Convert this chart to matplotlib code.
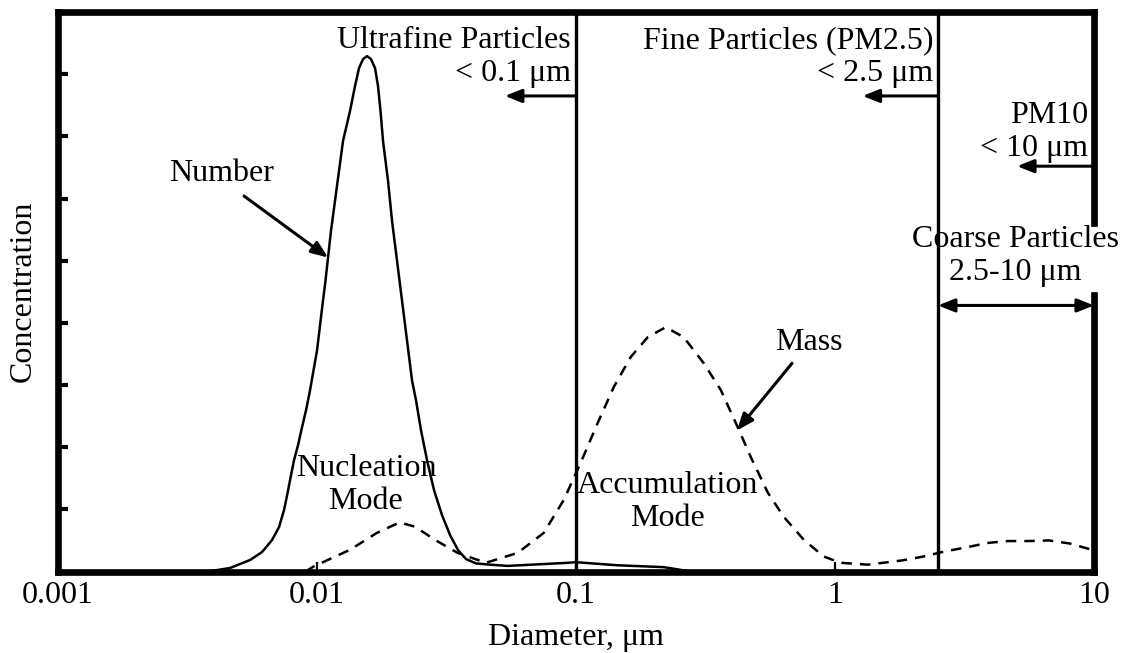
import matplotlib
matplotlib.use("Agg")
import matplotlib.pyplot as plt

plt.rcParams["font.family"] = ["Liberation Serif", "DejaVu Serif"]

# Number concentration distribution (diameter in um, relative concentration)
number_diameter = [0.0038, 0.004633, 0.005534, 0.006157, 0.006729, 0.007160,
                   0.007485, 0.007722, 0.007965, 0.008180, 0.008476, 0.008781,
                   0.009101, 0.009430, 0.009727, 0.010035, 0.010306, 0.010585,
                   0.010822, 0.011066, 0.011365, 0.011776, 0.012203, 0.012645,
                   0.013455, 0.014067, 0.014576, 0.015105, 0.015651, 0.016216,
                   0.016804, 0.017258, 0.017645, 0.018042, 0.018863, 0.019544,
                   0.020432, 0.021360, 0.022331, 0.023346, 0.024190, 0.025290,
                   0.026677, 0.028390, 0.030479, 0.032732, 0.035134, 0.037731,
                   0.041229, 0.046692, 0.05465, 0.0931, 0.1, 0.1452, 0.2188, 0.278]
number_conc = [0.0, 0.056, 0.185, 0.313, 0.506, 0.714,
               0.987, 1.260, 1.549, 1.790, 2.030, 2.319,
               2.592, 2.913, 3.234, 3.555, 3.957, 4.358,
               4.679, 5.048, 5.482, 5.963, 6.445, 6.926,
               7.408, 7.809, 8.098, 8.242, 8.291, 8.242,
               8.098, 7.809, 7.408, 6.926, 6.284, 5.642,
               5.000, 4.358, 3.716, 3.074, 2.753, 2.271,
               1.790, 1.308, 0.907, 0.586, 0.345, 0.200,
               0.130, 0.110, 0.090, 0.140, 0.150, 0.100, 0.070, 0.0]

# Mass concentration distribution
mass_diameter = [0.00907, 0.00973, 0.01346, 0.01706, 0.0209, 0.0240, 0.0286, 0.0350,
                 0.0450, 0.0597, 0.0752, 0.0899, 0.1045, 0.1216, 0.1403, 0.163,
                 0.1897, 0.2225, 0.261, 0.312, 0.363, 0.422, 0.474, 0.551, 0.635,
                 0.759, 0.907, 1.055, 1.34, 1.83, 2.19, 2.64, 3.23, 3.90, 4.66,
                 5.61, 6.70, 8.07, 10.0]
mass_conc = [0.0, 0.08, 0.35, 0.62, 0.79, 0.72, 0.51, 0.30,
             0.14, 0.30, 0.62, 1.15, 1.75, 2.39, 2.97, 3.45,
             3.77, 3.93, 3.77, 3.35, 2.92, 2.32, 1.84, 1.27, 0.88,
             0.51, 0.24, 0.14, 0.11, 0.18, 0.24, 0.32, 0.39, 0.46, 0.49,
             0.49, 0.50, 0.45, 0.34]

x_ticks = [0.001, 0.01, 0.1, 1, 10]
x_tick_labels = ["0.001", "0.01", "0.1", "1", "10"]
y_ticks = [1, 2, 3, 4, 5, 6, 7, 8]

ultrafine_cut = 0.1
fine_cut = 2.5
pm10_cut = 10

FS = 23
LS = 1.18
frame_lw = 4.8

fig = plt.figure(figsize=(11.22, 6.53), dpi=100)
ax = fig.add_axes([0.05125, 0.1248, 0.92375, 0.8568])
ax.set_xscale("log")
ax.set_xlim(0.001, 10)
ax.set_ylim(0, 9)

# size distributions
ax.plot(number_diameter, number_conc, color="black", lw=1.8, zorder=3,
        solid_joinstyle="round")
ax.plot(mass_diameter, mass_conc, color="black", lw=1.8,
        dashes=(4.2, 3.2), zorder=3)

# size-class boundaries
ax.axvline(ultrafine_cut, color="black", lw=2.4, zorder=2)
ax.axvline(fine_cut, color="black", lw=2.4, zorder=2)

# frame: right side drawn in two pieces around the coarse-particle label
for side in ("left", "top", "bottom"):
    ax.spines[side].set_linewidth(frame_lw)
ax.spines["right"].set_visible(False)
yt = ax.get_yaxis_transform()
ax.plot([1, 1], [0, 4.44], transform=yt, color="black", lw=frame_lw,
        clip_on=False, solid_capstyle="projecting", zorder=4)
ax.plot([1, 1], [5.61, 9], transform=yt, color="black", lw=frame_lw,
        clip_on=False, solid_capstyle="projecting", zorder=4)

ax.set_xticks(x_ticks)
ax.set_xticklabels(x_tick_labels)
ax.minorticks_off()
ax.tick_params(axis="x", which="major", direction="in", length=7, width=1.6,
               labelsize=FS, pad=7)
ax.set_yticks(y_ticks)
ax.set_yticklabels([])
ax.tick_params(axis="y", which="major", direction="in", length=7.5, width=3,
               left=True, right=False)

ax.set_xlabel("Diameter, μm", fontsize=FS, labelpad=9)
ax.set_ylabel("Concentration", fontsize=FS, labelpad=11)

head = "-|>,head_length=0.5,head_width=0.2"
arrow_kw = dict(arrowstyle=head, color="black", lw=2.2, mutation_scale=20,
                shrinkA=0, shrinkB=0)

# upper size-class labels with leftward arrows
ax.annotate("Ultrafine Particles\n< 0.1 μm", xy=(ultrafine_cut, 8.27),
            xytext=(-3.5, 0), textcoords="offset points", ha="right",
            va="center", multialignment="right", fontsize=FS, linespacing=LS)
ax.annotate("", xy=(0.0533, 7.65), xytext=(ultrafine_cut, 7.65),
            arrowprops=arrow_kw)

ax.annotate("Fine Particles (PM2.5)\n< 2.5 μm", xy=(fine_cut, 8.27),
            xytext=(-3.5, 0), textcoords="offset points", ha="right",
            va="center", multialignment="right", fontsize=FS, linespacing=LS)
ax.annotate("", xy=(1.28, 7.65), xytext=(fine_cut, 7.65),
            arrowprops=arrow_kw)

ax.annotate("PM10\n< 10 μm", xy=(pm10_cut, 7.07),
            xytext=(-4, 0), textcoords="offset points", ha="right",
            va="center", multialignment="right", fontsize=FS, linespacing=LS,
            annotation_clip=False)
ax.annotate("", xy=(5.05, 6.52), xytext=(pm10_cut, 6.52),
            arrowprops=arrow_kw, annotation_clip=False)

ax.text(4.96, 5.08, "Coarse Particles\n2.5-10 μm", ha="center", va="center",
        fontsize=FS, linespacing=LS, clip_on=False)
ax.annotate("", xy=(pm10_cut, 4.28), xytext=(fine_cut, 4.28),
            arrowprops=dict(arrow_kw, arrowstyle="<|-|>,head_length=0.5,head_width=0.2"),
            annotation_clip=False)

# curve labels
ax.text(0.004314, 6.41, "Number", ha="center", va="center", fontsize=FS)
ax.annotate("", xy=(0.01107, 5.05), xytext=(0.005247, 6.04),
            arrowprops=arrow_kw)
ax.text(0.7953, 3.68, "Mass", ha="center", va="center", fontsize=FS)
ax.annotate("", xy=(0.4193, 2.27), xytext=(0.6838, 3.35),
            arrowprops=arrow_kw)

# mode labels
ax.text(0.0155, 1.39, "Nucleation\nMode", ha="center", va="center",
        fontsize=FS, linespacing=LS)
ax.text(0.2251, 1.12, "Accumulation\nMode", ha="center", va="center",
        fontsize=FS, linespacing=LS)

fig.savefig("out.png", dpi=100)
